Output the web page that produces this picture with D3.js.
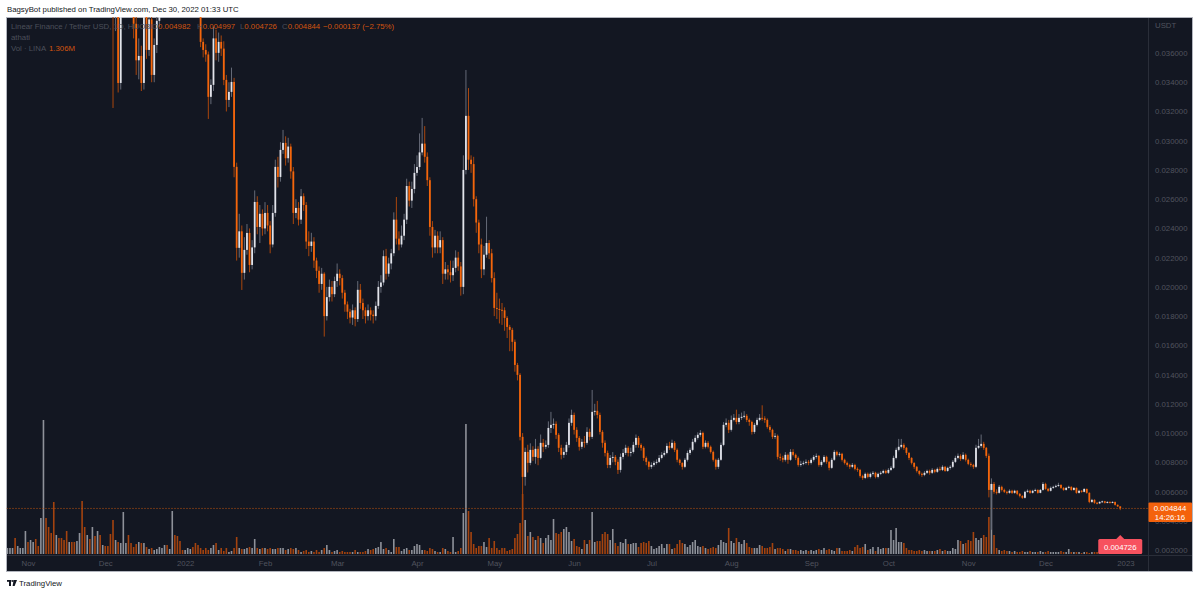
<!DOCTYPE html>
<html>
<head>
<meta charset="utf-8">
<script src="https://cdn.jsdelivr.net/npm/d3@7"></script>
<style>
  html, body { margin: 0; padding: 0; background: #fff; }
  svg { display: block; font-family: "Liberation Sans", Arial, sans-serif; }
</style>
</head>
<body>
<svg id="chart" width="1200" height="594"></svg>
<script>
// daily LINA/USDT candles, first candle 2021-10-24, prices in 1e-5 USDT
const firstDay = Date.UTC(2021, 9, 24)
const firstOpen = 5000

const closes = [
  5200,5500,5800,5400,5600,6000,6600,7200,7000,7500,
  7800,7400,7100,7300,7600,7200,6900,6700,6200,6400,
  6000,5800,5700,5500,5600,5300,5000,5200,5400,5100,
  4900,5000,4700,4800,4600,4700,4500,4600,4500,4400,
  4300,3950,3980,3395,3880,4050,4150,4080,4000,3800,
  3550,3580,3395,3890,3621,3830,3450,3655,3820,3950,
  4100,4250,4150,4300,4450,4350,4200,4150,4050,4200,
  4300,4450,4380,4250,4180,3676,3621,3590,3300,3382,
  3700,3601,3676,3630,3416,3279,3334,3402,2821,2267,
  2380,2096,2253,2369,2150,2270,2581,2410,2500,2400,
  2506,2420,2290,2506,2821,2752,2937,2985,2880,2960,
  2790,2506,2540,2460,2620,2560,2310,2280,2310,2180,
  2110,2020,2090,1800,1930,2000,1950,2040,2090,2060,
  1960,1880,1830,1790,1840,1780,1980,1890,1840,1800,
  1840,1810,1800,1870,2000,2030,2210,2090,2160,2230,
  2460,2330,2290,2350,2460,2690,2590,2670,2780,2820,
  2920,2980,2890,2730,2410,2270,2350,2270,2320,2090,
  2120,2100,2080,2130,2200,2140,2000,2800,3170,2870,
  2840,2600,2440,2290,2120,2220,2300,2230,2060,1856,
  1849,1843,1840,1788,1726,1706,1624,1466,1398,974,
  700,871,796,885,837,892,830,933,906,919,
  1035,1056,1063,988,899,851,871,919,1070,1124,
  1022,967,906,940,933,1008,974,1145,1152,1124,
  1008,933,864,782,830,837,803,748,837,864,
  899,864,871,919,967,919,899,830,803,769,
  782,796,803,830,851,864,912,899,933,885,
  817,796,769,817,864,885,940,967,988,1001,
  906,933,906,871,817,769,817,919,1056,1070,
  1022,1090,1104,1076,1104,1111,1118,1090,1076,1008,
  1056,1090,1104,1100,1090,1042,1022,974,981,837,
  830,817,851,817,871,851,830,782,789,796,
  803,796,817,837,844,782,803,837,803,762,
  817,871,851,858,817,796,782,769,782,755,
  748,707,693,721,700,721,728,700,721,728,
  741,728,748,762,830,885,906,919,899,864,
  830,796,769,741,721,714,728,741,728,748,
  735,755,748,769,741,762,769,803,830,844,
  823,851,817,789,782,769,899,912,926,899,
  844,611,652,598,591,632,611,598,591,605,
  591,605,584,570,557,598,605,591,605,611,
  591,611,652,618,605,625,632,639,645,625,
  611,625,632,611,625,591,605,598,618,591,
  529,543,523,519,529,533,523,529,523,529,
  509,498.2,484.4
]

const highs = [
  5400,5700,6000,5900,5700,6200,6800,7500,7400,7700,
  8100,7900,7500,7600,8200,7700,7300,7000,6800,6600,
  6500,6100,5900,5800,5700,5700,5400,5300,5500,5500,
  5200,5100,5100,4900,4900,4800,4750,4700,4700,4600,
  4500,4400,4150,4050,3950,4150,4250,4200,4150,4050,
  3850,3700,3650,3950,3950,3900,3870,3700,3870,4050,
  4200,4350,4300,4400,4600,4500,4400,4250,4200,4300,
  4400,4550,4500,4400,4300,4200,3700,3660,3610,3420,
  3780,3760,3740,3720,3680,3450,3400,3500,3430,2850,
  2500,2420,2340,2430,2400,2320,2660,2620,2560,2530,
  2580,2560,2450,2560,2870,2890,2990,3074,3030,3020,
  2980,2820,2600,2580,2670,2640,2580,2380,2370,2340,
  2200,2140,2130,2100,2000,2050,2040,2070,2160,2120,
  2080,1980,1900,1850,1880,1860,2040,2020,1920,1860,
  1880,1860,1840,1900,2040,2080,2250,2260,2200,2260,
  2510,2615,2380,2420,2500,2740,2720,2720,2840,2900,
  3050,3156,3100,2920,2750,2450,2390,2380,2380,2340,
  2170,2150,2180,2180,2250,2240,2170,2900,3484,3360,
  2900,2890,2620,2460,2330,2280,2480,2320,2260,2100,
  1960,1920,1890,1860,1800,1740,1720,1640,1480,1410,
  1000,900,920,930,910,960,910,990,960,950,
  1080,1145,1100,1080,1000,920,900,940,1100,1160,
  1140,1040,980,960,980,1040,1030,1295,1200,1220,
  1140,1020,950,880,850,870,850,820,860,890,
  920,910,900,940,990,980,930,910,840,810,
  800,810,820,850,870,880,930,940,955,945,
  895,825,800,830,880,900,960,985,1005,1020,
  1010,950,945,915,880,825,830,935,1075,1100,
  1090,1120,1130,1160,1130,1140,1150,1130,1100,1085,
  1070,1105,1130,1190,1115,1100,1055,1030,1000,990,
  860,845,870,860,890,890,860,840,810,810,
  820,815,830,850,860,850,815,850,845,810,
  830,885,880,870,865,825,805,790,795,790,
  765,755,715,730,730,730,740,735,730,740,
  750,750,760,775,845,900,960,960,930,905,
  870,835,800,775,745,730,740,750,750,760,
  755,765,770,780,775,770,780,815,845,860,
  855,870,860,825,800,790,920,960,990,940,
  905,860,690,665,615,645,640,620,605,615,
  612,612,610,590,575,605,615,612,612,620,
  615,618,665,660,625,635,640,648,660,650,
  630,632,640,636,630,628,612,610,622,620,
  595,550,547,528,534,538,536,533,532,533,
  531,512,499.7
]

const lows = [
  4900,5100,5400,5300,5300,5500,5900,6500,6800,6900,
  7300,7200,6900,7000,7100,7000,6700,6500,6000,6000,
  5800,5600,5500,5300,5400,5200,4800,4900,5100,4900,
  4700,4800,4500,4500,4400,4450,4300,4350,4250,4200,
  4100,3224,3750,3330,3350,3860,3980,3950,3900,3700,
  3450,3420,3340,3350,3560,3580,3400,3400,3600,3780,
  3900,4050,4050,4100,4250,4200,4100,4000,3950,3980,
  4150,4250,4300,4150,4000,3640,3570,3540,3149,3250,
  3340,3550,3540,3580,3380,3200,3230,3300,2750,2180,
  2200,1979,2050,2220,2100,2120,2230,2360,2300,2350,
  2360,2380,2230,2270,2480,2680,2720,2910,2830,2850,
  2740,2430,2470,2420,2430,2520,2260,2210,2240,2130,
  2060,1960,1980,1660,1770,1900,1900,1930,2000,2010,
  1920,1830,1780,1750,1740,1730,1760,1850,1780,1750,
  1770,1770,1750,1770,1850,1960,2010,2050,2070,2120,
  2210,2290,2250,2270,2320,2430,2550,2540,2640,2760,
  2800,2900,2850,2690,2350,2200,2230,2230,2230,2020,
  2050,2050,2030,2040,2100,2110,1940,1950,2770,2800,
  2780,2550,2370,2230,2060,2080,2200,2190,2030,1800,
  1780,1750,1740,1700,1650,1560,1560,1420,1360,950,
  406,640,730,780,810,790,780,820,870,890,
  900,1000,1030,960,870,820,830,850,900,1050,
  990,940,880,890,900,920,950,960,1120,1100,
  990,900,840,760,760,800,780,720,730,820,
  850,840,840,860,900,900,880,810,780,750,
  755,770,785,795,820,840,855,885,890,870,
  800,780,750,760,805,850,875,930,955,975,
  890,895,895,860,805,750,755,810,910,1040,
  1000,1010,1080,1060,1060,1090,1100,1075,1050,990,
  995,1045,1080,1085,1070,1030,1005,960,960,820,
  810,800,805,790,810,840,815,770,770,780,
  785,780,785,805,825,770,770,795,790,745,
  755,810,840,840,805,785,770,755,760,745,
  735,695,680,685,690,690,710,690,690,712,
  720,720,720,740,755,820,875,895,885,850,
  815,785,755,730,710,700,705,720,715,720,
  725,728,740,740,735,735,750,760,795,820,
  810,815,805,780,770,755,760,890,900,885,
  830,560,338,585,580,585,600,590,580,585,
  583,585,575,560,550,552,592,585,586,600,
  585,588,605,612,598,600,618,625,632,618,
  605,606,620,605,606,585,586,592,594,585,
  520,522,516,512,514,524,518,519,518,520,
  504,494,472.6
]

// volume, millions of LINA
const volumes = [
  6,6,6,16,8,6,6,23,12,14,12,15,8,36,134,36,27,21,52,19,16,16,14,23,12,12,12,13,21,53,27,19,15,27,18,23,19,9,8,8,20,34,
  14,12,11,42,11,19,11,7,10,12,11,11,
  7,5,6,4,5,7,6,9,9,5,43,19,18,13,4,4,
  6,5,7,11,9,6,4,6,4,6,9,11,4,6,3,6,2,3,6,17,6,5,5,6,7,6,15,6,5,6,
  6,5,6,5,5,6,6,6,4,5,6,5,6,4,2,3,4,2,3,2,4,2,4,6,9,4,2,3,
  4,2,3,2,2,2,2,4,2,2,2,3,5,4,5,6,7,12,5,6,4,2,15,7,7,3,5,6,4,4,8,
  10,9,4,4,3,6,5,3,2,2,6,5,3,2,17,2,3,6,41,130,43,22,10,6,8,8,12,7,16,6,
  13,6,4,6,6,3,4,5,16,20,31,60,34,18,22,17,14,18,16,11,16,19,14,35,21,20,22,25,27,22,13,
  15,8,7,5,14,10,14,42,12,13,13,20,22,20,14,25,11,8,12,11,15,10,10,11,11,7,11,12,11,13,
  8,5,6,8,10,6,10,10,5,6,10,14,11,10,7,9,12,14,8,7,8,6,5,6,7,6,9,14,12,11,26,
  13,11,16,12,10,14,11,7,6,6,6,9,8,6,6,7,11,5,6,6,5,3,5,5,4,
  4,3,4,3,4,3,4,3,4,5,4,6,4,5,4,3,6,6,3,3,3,4,3,7,9,6,7,10,4,5,7,3,7,5,6,6,6,24,14,26,
  12,12,11,6,4,4,3,3,4,3,4,3,3,3,3,4,5,3,4,3,3,6,5,14,13,10,11,14,13,22,16,14,16,19,17,37,70,19,
  6,4,3,4,3,3,2,3,2,2,3,2,2,3,2,2,2,3,2,2,3,2,2,2,2,3,2,2,5,2,2,2,2,1,2,2,1,2,2,2,2,3,2,2,2,2,2,1,1.306
]

const monthLabels = ['Nov', 'Dec', '2022', 'Feb', 'Mar', 'Apr', 'May', 'Jun', 'Jul', 'Aug', 'Sep', 'Oct', 'Nov', 'Dec', '2023']
const monthDates = ['2021-11-01', '2021-12-01', '2022-01-01', '2022-02-01', '2022-03-01', '2022-04-01', '2022-05-01',
  '2022-06-01', '2022-07-01', '2022-08-01', '2022-09-01', '2022-10-01', '2022-11-01', '2022-12-01', '2023-01-01']
const priceTicks = [0.002, 0.004, 0.006, 0.008, 0.010, 0.012, 0.014, 0.016, 0.018, 0.020,
  0.022, 0.024, 0.026, 0.028, 0.030, 0.032, 0.034, 0.036]

const lastPrice = 0.004844
const lowPrice = 0.004726

const upBody = '#e1e3ea', downBody = '#f4660c'
const upWick = '#656a77', downWick = '#a9460d'
const upVol = '#8e9199', downVol = '#a4430f'
const textDim = '#50535e'

const svg = d3.select('#chart')
const plot = {left: 6.5, top: 17, right: 1148, bottom: 554.5}

const candles = closes.map((c, i) => ({
  date: new Date(firstDay + i * 864e5),
  open: (i === 0 ? firstOpen : closes[i - 1]) / 1e5,
  close: c / 1e5,
  high: highs[i] / 1e5,
  low: lows[i] / 1e5,
  vol: volumes[i]
}))

const x = d3.scaleUtc()
  .domain([new Date('2021-11-01T00:00:00Z'), new Date('2023-01-01T00:00:00Z')])
  .range([28, 1125.4])

const y = d3.scaleLinear()
  .domain([0.002, 0.036])
  .range([550, 53])

const yVol = d3.scaleLinear()
  .domain([0, d3.max(volumes)])
  .range([554, 420])

// page header
svg.append('text')
  .attr('x', 7).attr('y', 12)
  .attr('font-size', 7.8).attr('fill', '#131722')
  .text('BagsyBot published on TradingView.com, Dec 30, 2022 01:33 UTC')

// dark panel
svg.append('rect')
  .attr('x', 6.5).attr('y', 17.5)
  .attr('width', 1186).attr('height', 554)
  .attr('fill', '#131722')
  .attr('stroke', '#b2b5be').attr('stroke-width', 1)

svg.append('line')
  .attr('x1', plot.right + 0.5).attr('x2', plot.right + 0.5)
  .attr('y1', 18).attr('y2', 571)
  .attr('stroke', '#2a2e39')
svg.append('line')
  .attr('x1', 7).attr('x2', 1192)
  .attr('y1', 555.5).attr('y2', 555.5)
  .attr('stroke', '#2a2e39')

svg.append('clipPath').attr('id', 'plotClip')
  .append('rect')
  .attr('x', plot.left).attr('y', plot.top)
  .attr('width', plot.right - plot.left).attr('height', plot.bottom - plot.top)

const group = svg.append('g').attr('clip-path', 'url(#plotClip)')

// volume
group.append('g').selectAll('rect')
  .data(candles)
  .join('rect')
  .attr('x', d => x(d.date) - 0.8)
  .attr('width', 1.6)
  .attr('y', d => yVol(d.vol))
  .attr('height', d => 554 - yVol(d.vol))
  .attr('fill', d => d.close >= d.open ? upVol : downVol)

// last price line
group.append('line')
  .attr('x1', plot.left).attr('x2', plot.right)
  .attr('y1', y(lastPrice)).attr('y2', y(lastPrice))
  .attr('stroke', '#c2560f')
  .attr('stroke-width', 1)
  .attr('stroke-dasharray', '1,2')

// wicks and bodies
const candleG = group.append('g').selectAll('g')
  .data(candles)
  .join('g')

candleG.append('rect')
  .attr('x', d => x(d.date) - 0.5)
  .attr('width', 1)
  .attr('y', d => y(d.high))
  .attr('height', d => Math.max(1, y(d.low) - y(d.high)))
  .attr('fill', d => d.close >= d.open ? upWick : downWick)

candleG.append('rect')
  .attr('x', d => x(d.date) - 0.9)
  .attr('width', 1.8)
  .attr('y', d => y(Math.max(d.open, d.close)))
  .attr('height', d => Math.max(1, Math.abs(y(d.open) - y(d.close))))
  .attr('fill', d => d.close >= d.open ? upBody : downBody)

// price axis
const yAxis = svg.append('g')
  .attr('transform', `translate(${plot.right}, 0)`)
  .call(d3.axisRight(y).tickValues(priceTicks).tickFormat(d3.format('.6f')).tickSize(0).tickPadding(7))
yAxis.select('.domain').remove()
yAxis.selectAll('text')
  .attr('fill', textDim)
  .attr('font-size', 7.8)
  .attr('font-family', '"Liberation Sans", Arial, sans-serif')

svg.append('text')
  .attr('x', 1155).attr('y', 28)
  .attr('font-size', 7.8).attr('fill', textDim)
  .text('USDT')

// time axis
const xAxis = svg.append('g')
  .attr('transform', `translate(0, 555)`)
  .call(d3.axisBottom(x)
    .tickValues(monthDates.map(s => new Date(s + 'T00:00:00Z')))
    .tickFormat((d, i) => monthLabels[i])
    .tickSize(0).tickPadding(5))
xAxis.select('.domain').remove()
xAxis.selectAll('text')
  .attr('fill', textDim)
  .attr('font-size', 7.8)
  .attr('font-family', '"Liberation Sans", Arial, sans-serif')

// last price box
const lpY = y(lastPrice)
svg.append('rect')
  .attr('x', 1148.5).attr('y', lpY - 6)
  .attr('width', 43.5).attr('height', 19.5)
  .attr('rx', 1)
  .attr('fill', '#f4620c')
svg.append('text')
  .attr('x', 1170).attr('y', lpY + 3)
  .attr('text-anchor', 'middle')
  .attr('font-size', 7.8).attr('fill', '#fff')
  .text(d3.format('.6f')(lastPrice))
svg.append('text')
  .attr('x', 1170).attr('y', lpY + 11.5)
  .attr('text-anchor', 'middle')
  .attr('font-size', 7.8).attr('fill', '#fff')
  .text('14:26:16')

// low label
const lowX = x(candles[candles.length - 1].date)
svg.append('path')
  .attr('d', `M${lowX - 4},539 L${lowX},535 L${lowX + 4},539 Z`)
  .attr('fill', '#f7525f')
svg.append('rect')
  .attr('x', lowX - 22).attr('y', 539)
  .attr('width', 44).attr('height', 15)
  .attr('rx', 1.5)
  .attr('fill', '#f7525f')
svg.append('text')
  .attr('x', lowX).attr('y', 549.5)
  .attr('text-anchor', 'middle')
  .attr('font-size', 7.8).attr('fill', '#fff')
  .text(d3.format('.6f')(lowPrice))

// legend
const legend = svg.append('text')
  .attr('y', 29).attr('font-size', 7.8)
const parts = [
  {x: 11, t: 'Linear Finance / Tether USD, 1D, HUOBI', c: '#4b4f5a'},
  {x: 152, t: 'O', c: '#4b4f5a'}, {t: '0.004982', c: '#d1540f'},
  {x: 197, t: 'H', c: '#4b4f5a'}, {t: '0.004997', c: '#d1540f'},
  {x: 240, t: 'L', c: '#4b4f5a'}, {t: '0.004726', c: '#d1540f'},
  {x: 282, t: 'C', c: '#4b4f5a'}, {t: '0.004844', c: '#d1540f'},
  {x: 323, t: '\u22120.000137 (\u22122.75%)', c: '#d1540f'}
]
parts.forEach(p => {
  const ts = legend.append('tspan').attr('fill', p.c).text(p.t)
  if (p.x !== undefined) ts.attr('x', p.x)
})

svg.append('text')
  .attr('x', 11).attr('y', 40)
  .attr('font-size', 7.8).attr('fill', '#4b4f5a')
  .text('athati')

const volLegend = svg.append('text')
  .attr('x', 11).attr('y', 51)
  .attr('font-size', 7.8)
volLegend.append('tspan').attr('fill', '#4b4f5a').text('Vol \u00b7 LINA')
volLegend.append('tspan').attr('x', 49).attr('fill', '#d1540f').text('1.306M')

// footer logo
const logo = svg.append('g').attr('fill', '#131722')
logo.append('rect').attr('x', 7).attr('y', 580).attr('width', 4.5).attr('height', 1.8)
logo.append('rect').attr('x', 9).attr('y', 580).attr('width', 2).attr('height', 6)
logo.append('circle').attr('cx', 12.8).attr('cy', 581).attr('r', 0.9)
logo.append('path').attr('d', 'M13.6,580 L17,580 L14.6,586 L12.6,586 Z')
svg.append('text')
  .attr('x', 19).attr('y', 586)
  .attr('font-size', 7.8).attr('fill', '#131722')
  .text('TradingView')
</script>
</body>
</html>
